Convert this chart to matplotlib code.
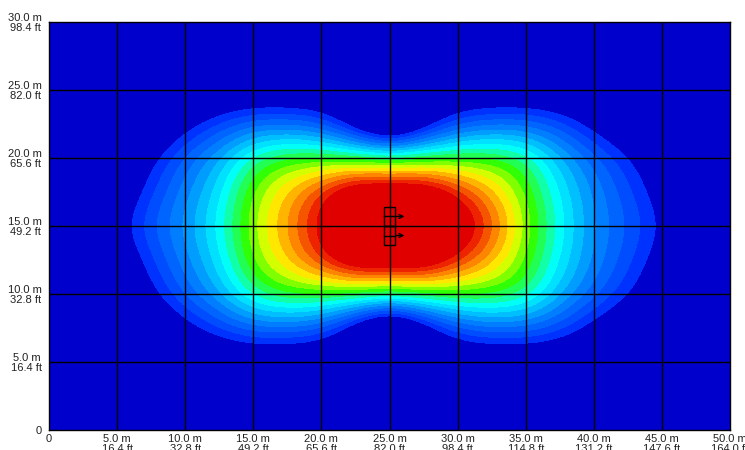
import numpy as np
import matplotlib
matplotlib.use("Agg")
import matplotlib.pyplot as plt
from matplotlib.colors import LinearSegmentedColormap, ListedColormap, BoundaryNorm
from matplotlib.patches import Rectangle

plt.rcParams['font.family'] = ['Liberation Sans', 'DejaVu Sans']

# relative illuminance, every 2.5 m (x: 0..50, rows: y = 30 .. 0)
B = -0.1
row_bg = [B] * 21
row_22 = [B, B, B, -0.10, 0.00, 0.10, 0.18, 0.18, 0.13, -0.08, -0.35,
          -0.08, 0.12, 0.18, 0.18, 0.12, 0.00, -0.08, B, B, B]
row_20 = [B, B, -0.10, 0.02, 0.17, 0.30, 0.50, 0.58, 0.57, 0.54, 0.52,
          0.54, 0.57, 0.58, 0.52, 0.32, 0.18, 0.06, -0.05, B, B]
row_17 = [B, B, -0.06, 0.09, 0.23, 0.38, 0.62, 0.76, 0.93, 1.15, 1.15,
          1.15, 0.95, 0.78, 0.60, 0.40, 0.24, 0.12, 0.00, B, B]
row_15 = [B, B, 0.01, 0.15, 0.27, 0.42, 0.65, 0.81, 1.00, 1.15, 1.15,
          1.15, 1.10, 0.90, 0.64, 0.43, 0.25, 0.15, 0.05, B, B]
lux = np.array([row_bg, row_bg, row_bg, row_22, row_20, row_17, row_15,
                row_17, row_20, row_22, row_bg, row_bg, row_bg])

levels = np.round(np.arange(0.05, 0.96, 0.05), 2)
anchors = [(0.05, (0.0, 0.15, 1.0)), (0.25, (0.0, 0.55, 1.0)), (0.42, (0.0, 1.0, 1.0)),
           (0.58, (0.2, 1.0, 0.0)), (0.70, (1.0, 1.0, 0.0)), (0.82, (1.0, 0.55, 0.0)),
           (0.95, (0.92, 0.05, 0.0))]
ramp = LinearSegmentedColormap.from_list(
    'ramp', [(min(1.0, round((v - 0.05) / 0.9, 4)), c) for v, c in anchors])
mids = (levels[:-1] + levels[1:]) / 2
cmap = ListedColormap(ramp((mids - 0.05) / 0.9))
cmap.set_under('#0000cc')
cmap.set_over('#e00000')
norm = BoundaryNorm(levels, cmap.N)

# fixtures
fix_x = [25.0, 25.0]
fix_y = [15.7, 14.3]
fix_w = 0.88
fix_h = 1.38

ticks = np.arange(0, 51, 5)
xlabels = ['0'] + [f'{t:.1f} m\n{t * 3.2808:.1f} ft' for t in ticks[1:]]
yticks = np.arange(0, 31, 5)
ylabels = ['0'] + [f'{t:.1f} m\n{t * 3.2808:.1f} ft' for t in yticks[1:]]

fig = plt.figure(figsize=(7.45, 4.5), dpi=100)
ax = fig.add_axes([49 / 745, 20 / 450, 681 / 745, 408 / 450])

ax.imshow(lux, cmap=cmap, norm=norm, interpolation='bicubic', interpolation_stage='data',
          extent=(-1.25, 51.25, -1.25, 31.25), origin='upper', aspect='auto', zorder=1)

for t in ticks[1:-1]:
    ax.axvline(t, color='black', lw=1.0, zorder=2)
for t in yticks[1:-1]:
    ax.axhline(t, color='black', lw=1.0, zorder=2)

for fx, fy in zip(fix_x, fix_y):
    ax.add_patch(Rectangle((fx - fix_w / 2, fy - fix_h / 2), fix_w, fix_h,
                           fill=False, ec='black', lw=1.0, zorder=3))
    ax.plot([fx - fix_w / 2, fx + fix_w / 2], [fy, fy], color='black', lw=1.0, zorder=3)
    ax.annotate('', xy=(fx + 1.1, fy), xytext=(fx + 0.5, fy),
                arrowprops=dict(arrowstyle='->', color='black', lw=1.0,
                                mutation_scale=7, shrinkA=0, shrinkB=0), zorder=4)

ax.set_xlim(0, 50)
ax.set_ylim(0, 30)
ax.set_xticks(ticks)
ax.set_xticklabels(xlabels, fontsize=8, color='#222222', linespacing=0.95)
ax.set_yticks(yticks)
ax.set_yticklabels(ylabels, fontsize=8, color='#222222', linespacing=0.95,
                   multialignment='center')
ax.tick_params(length=0, pad=3)
ax.tick_params(axis='y', pad=5)
for s in ax.spines.values():
    s.set_linewidth(1.0)
    s.set_color('black')

fig.savefig('out.png', dpi=100)
